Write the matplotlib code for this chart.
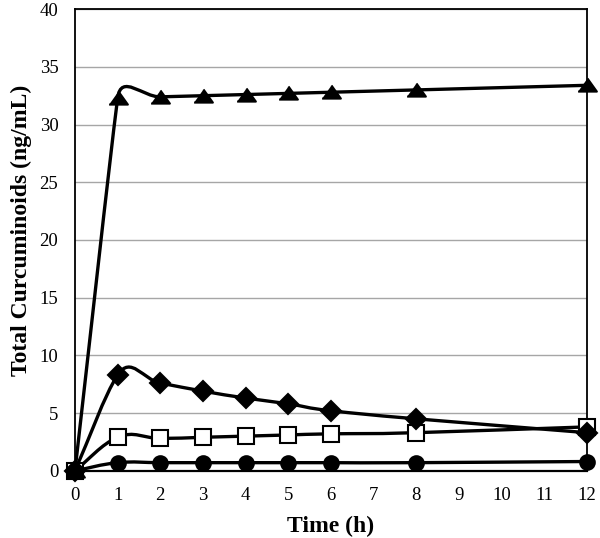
import numpy as np
import matplotlib
matplotlib.use("Agg")
import matplotlib.pyplot as plt
from matplotlib.path import Path
from matplotlib.patches import PathPatch

# sampling times (h)
time_h = [0, 1, 2, 3, 4, 5, 6, 8, 12]

# total curcuminoids (ng/mL) per formulation
triangle_vals = [0, 32.3, 32.4, 32.5, 32.6, 32.7, 32.8, 33.0, 33.4]
diamond_vals = [0, 8.3, 7.6, 6.9, 6.3, 5.8, 5.2, 4.5, 3.3]
square_vals = [0, 2.9, 2.8, 2.9, 3.0, 3.1, 3.2, 3.3, 3.8]
circle_vals = [0, 0.7, 0.7, 0.7, 0.7, 0.7, 0.7, 0.7, 0.8]

x_ticks = list(range(0, 13))
y_ticks = list(range(0, 41, 5))

serif = ["Liberation Serif", "DejaVu Serif"]


def tangent(pts, i):
    # unit tangent at point i, long chords weigh more (pixel space)
    n = len(pts)
    if i == 0:
        v = pts[1] - pts[0]
    elif i == n - 1:
        v = pts[-1] - pts[-2]
    else:
        a = pts[i] - pts[i - 1]
        b = pts[i + 1] - pts[i]
        v = a * np.hypot(*a) + b * np.hypot(*b)
    return v / np.hypot(*v)


def smooth_curve(ax, xs, ys, **kw):
    # smoothed line drawn as cubic Bezier segments between the data points
    pts = ax.transData.transform(np.column_stack([xs, ys]))
    n = len(pts)
    verts = [pts[0]]
    codes = [Path.MOVETO]
    for i in range(n - 1):
        p1, p2 = pts[i], pts[i + 1]
        seg = np.hypot(*(p2 - p1))
        span1 = np.hypot(*(pts[min(i + 1, n - 1)] - pts[max(i - 1, 0)]))
        span2 = np.hypot(*(pts[min(i + 2, n - 1)] - pts[i]))
        a1 = min(span1 * 0.2, seg * 0.6) if i > 0 else seg / 3
        a2 = min(span2 * 0.2, seg * 0.6) if i + 1 < n - 1 else seg / 3
        c1 = p1 + tangent(pts, i) * a1
        c2 = p2 - tangent(pts, i + 1) * a2
        verts += [c1, c2, p2]
        codes += [Path.CURVE4] * 3
    verts = ax.transData.inverted().transform(np.array(verts))
    ax.add_patch(PathPatch(Path(verts, codes), fill=False,
                           transform=ax.transData, **kw))


fig = plt.figure(figsize=(6.0, 5.38), dpi=100)
ax = fig.add_axes([0.125, 0.125, 0.853, 0.858])
ax.set_xlim(0, 12)
ax.set_ylim(0, 40)

ax.set_yticks(y_ticks)
ax.set_xticks(x_ticks)
ax.yaxis.grid(True, color="#a6a6a6", linewidth=1.0)
ax.set_axisbelow(True)
ax.tick_params(length=0, labelsize=13.5)
ax.tick_params(axis="x", pad=12)
ax.tick_params(axis="y", pad=12)
for lab in ax.get_xticklabels() + ax.get_yticklabels():
    lab.set_family(serif)
for s in ax.spines.values():
    s.set_linewidth(1.3)
    s.set_color("black")
ax.spines["bottom"].set_linewidth(1.6)

ax.set_xlabel("Time (h)", family=serif, fontsize=17, fontweight="bold", labelpad=8)
ax.set_ylabel("Total Curcuminoids (ng/mL)", family=serif, fontsize=17,
              fontweight="bold")
ax.yaxis.set_label_coords(-0.084, 0.52)

lw = 2.4
tri = [(-1, -0.65), (1, -0.65), (0, 0.75)]
series = [
    (square_vals, dict(marker="s", markersize=11.5, mfc="white")),
    (circle_vals, dict(marker="o", markersize=10.5, mfc="black")),
    (diamond_vals, dict(marker="D", markersize=10, mfc="black")),
    (triangle_vals, dict(marker=tri, markersize=13.5, mfc="black")),
]
for k, (vals, style) in enumerate(series):
    smooth_curve(ax, time_h, vals, edgecolor="black", linewidth=lw, zorder=3 + k)
    ax.plot(time_h, vals, linestyle="none", mec="black", mew=1.5,
            zorder=3.5 + k, clip_on=False, **style)

fig.savefig("out.png", dpi=100)
